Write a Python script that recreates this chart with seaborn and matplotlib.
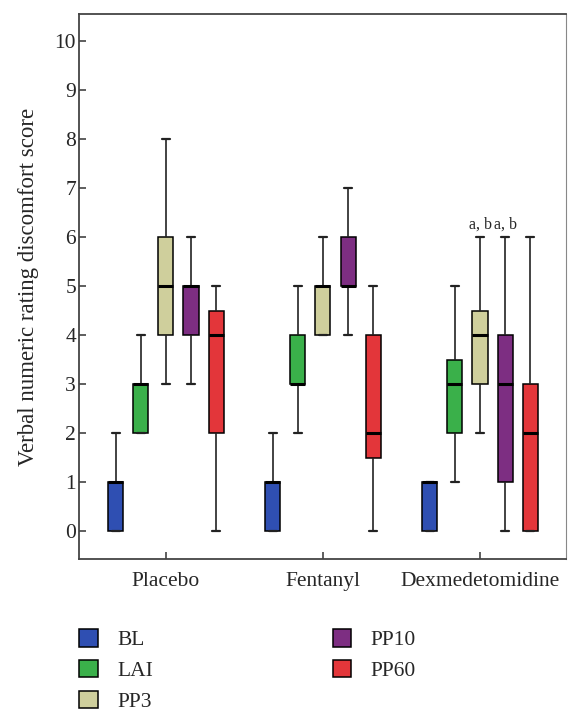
import numpy as np
import pandas as pd
import seaborn as sns
import matplotlib
matplotlib.use("Agg")
import matplotlib.pyplot as plt
from matplotlib.patches import Patch

# ── Données : résumé en 5 nombres (min, Q1, médiane, Q3, max) ──
GROUPS = ["Placebo", "Fentanyl", "Dexmedetomidine"]
TIMES  = ["BL", "LAI", "PP3", "PP10", "PP60"]

placebo  = [[0, 0, 1, 1, 2],
            [2, 2, 3, 3, 4],
            [3, 4, 5, 6, 8],
            [3, 4, 5, 5, 6],
            [0, 2, 4, 4.5, 5]]
fentanyl = [[0, 0, 1, 1, 2],
            [2, 3, 3, 4, 5],
            [4, 4, 5, 5, 6],
            [4, 5, 5, 6, 7],
            [0, 1.5, 2, 4, 5]]
dexmed   = [[0, 0, 1, 1, 1],
            [1, 2, 3, 3.5, 5],
            [2, 3, 4, 4.5, 6],
            [0, 1, 3, 4, 6],
            [0, 0, 2, 3, 6]]

# annotations "a, b" (groupe, temps, hauteur)
ANNOT = [("Dexmedetomidine", "PP3", 6.1), ("Dexmedetomidine", "PP10", 6.1)]

COLORS = ["#2F4FB2", "#3AB04A", "#CFCF9C", "#7D2E82", "#E3363A"]

# ── Table longue ─────────────────────────────────────────────
rows = []
for g, summ in zip(GROUPS, [placebo, fentanyl, dexmed]):
    for t, vals in zip(TIMES, summ):
        for v in vals:
            rows.append({"groupe": g, "temps": t, "score": v})
df = pd.DataFrame(rows)

# ── Style ────────────────────────────────────────────────────
sns.set_theme(style="ticks")
plt.rcParams["font.family"] = ["Liberation Serif", "DejaVu Serif"]
plt.rcParams["font.size"] = 15.5

fig = plt.figure(figsize=(5.8, 7.16), dpi=100)
ax = fig.add_axes([0.136, 0.219, 0.840, 0.761])

sns.boxplot(data=df, x="groupe", y="score", hue="temps",
            order=GROUPS, hue_order=TIMES, palette=COLORS,
            whis=(0, 100), width=0.8, gap=0.4, saturation=1,
            linecolor="black", linewidth=1.1,
            medianprops=dict(color="black", linewidth=2.2),
            whiskerprops=dict(color="#222222", linewidth=1.2),
            capprops=dict(color="#222222", linewidth=1.6),
            capwidths=0.05,
            legend=False, ax=ax)

# positions des annotations via le dodge seaborn
n = len(TIMES)
step = 0.8 / n
for g, t, y in ANNOT:
    xpos = GROUPS.index(g) - 0.4 + step * (TIMES.index(t) + 0.5)
    ax.text(xpos, y, "a, b", ha="center", va="bottom", fontsize=11.5)

ax.set_xlim(-0.554, 2.548)
ax.set_ylim(-0.57, 10.55)
ax.set_yticks(range(0, 11))
ax.set_xlabel("")
ax.set_ylabel("Verbal numeric rating discomfort score", fontsize=16.5, labelpad=11)
ax.tick_params(axis="both", direction="in", length=5, width=1.1,
               labelsize=15.5, color="#333333")
ax.tick_params(axis="y", pad=2)
ax.tick_params(axis="x", pad=9)
for side in ["left", "bottom", "top"]:
    ax.spines[side].set_color("#444444")
    ax.spines[side].set_linewidth(1.3)
ax.spines["right"].set_color("#888888")
ax.spines["right"].set_linewidth(0.8)

handles = [Patch(facecolor=c, edgecolor="black", linewidth=1.1, label=t)
           for c, t in zip(COLORS, TIMES)]
fig.legend(handles=handles, loc="upper left", bbox_to_anchor=(0.137, 0.121),
           ncol=2, frameon=False, fontsize=15.5, handlelength=0.85,
           handleheight=0.85, handletextpad=0.9, columnspacing=8.35,
           labelspacing=0.45, borderpad=0, borderaxespad=0)

fig.savefig("out.png", dpi=100)
